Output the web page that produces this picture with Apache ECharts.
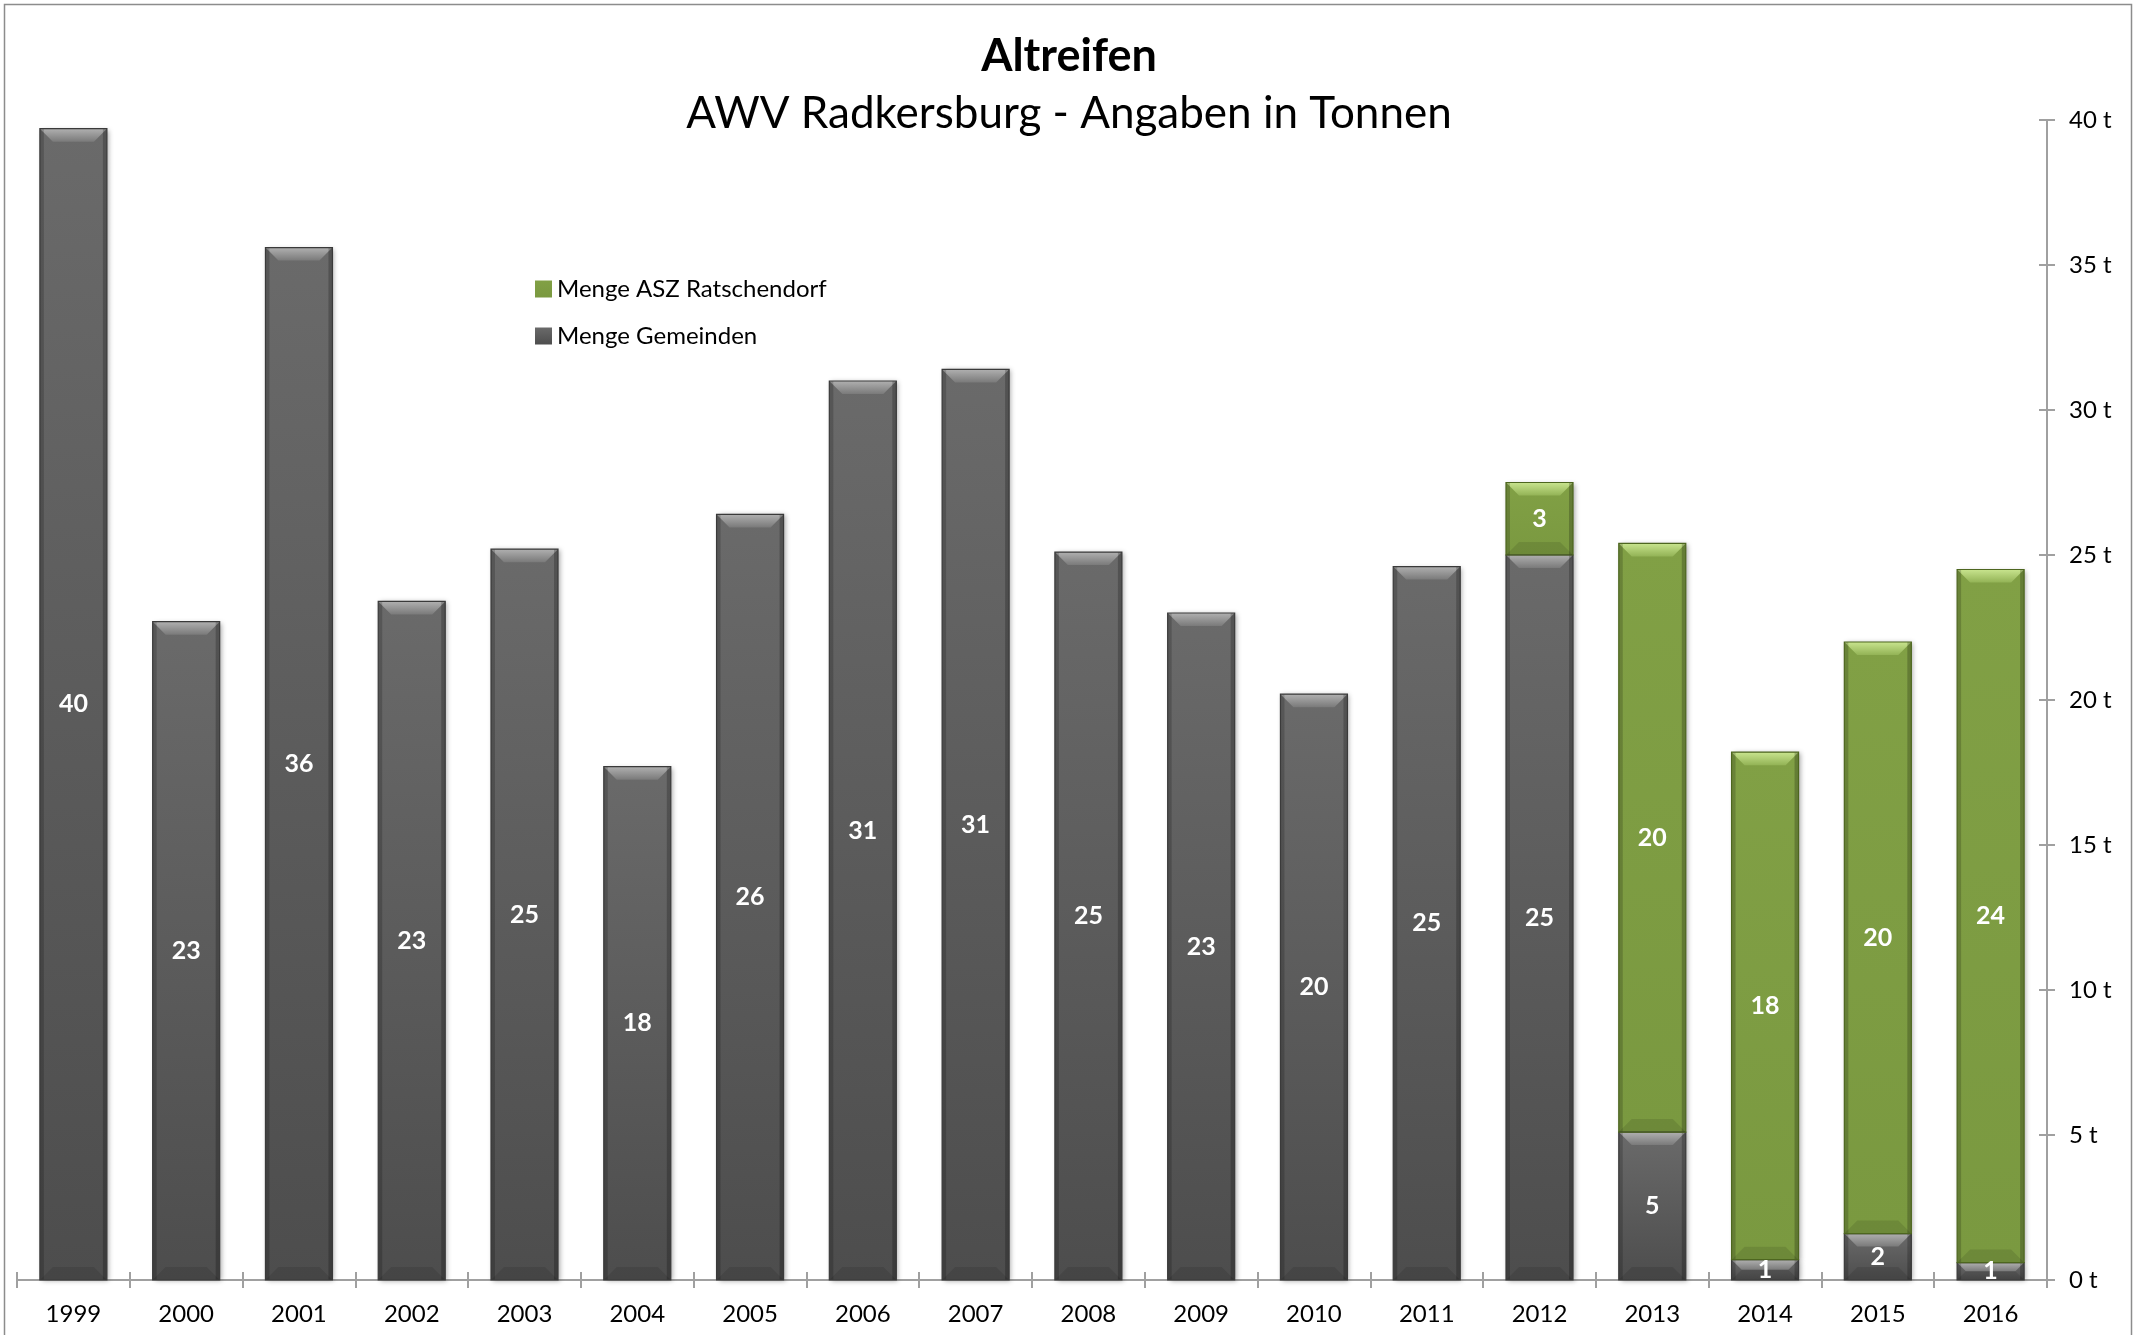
<!DOCTYPE html>
<html>
<head>
<meta charset="utf-8">
<script src="https://cdn.jsdelivr.net/npm/echarts@6/dist/echarts.min.js"></script>
<style>
  html, body { margin: 0; padding: 0; background: #fff; }
  #chart { width: 2139px; height: 1335px; }
</style>
</head>
<body>
<div id="chart"></div>
<script>
const years = ["1999", "2000", "2001", "2002", "2003", "2004", "2005", "2006", "2007",
  "2008", "2009", "2010", "2011", "2012", "2013", "2014", "2015", "2016"];
const gemeinden = [39.7, 22.7, 35.6, 23.4, 25.2, 17.7, 26.4, 31.0, 31.4,
  25.1, 23.0, 20.2, 24.6, 25.0, 5.1, 0.7, 1.6, 0.6];
const asz = [null, null, null, null, null, null, null, null, null,
  null, null, null, null, 2.5, 20.3, 17.5, 20.4, 23.9];
const yTicks = [0, 5, 10, 15, 20, 25, 30, 35, 40];

const FONT = "Lato";
const BAR_W = 67;

const gray = { top: "#6a6a6a", bottom: "#4d4d4d", bevTop: "#b0b0b0", bevBot: "#7a7a7a", edge: "#3a3a3a" };
const green = { top: "#81a045", bottom: "#7a9940", bevTop: "#c8e48e", bevBot: "#93b356", edge: "#4d661f" };

// segments for the bevel / label overlay: [index, base, top, kind]
const segments = [];
years.forEach((y, i) => {
  const g = gemeinden[i] || 0;
  if (g) segments.push([i, 0, g, 0]);
  if (asz[i]) segments.push([i, g, g + asz[i], 1]);
});

const chart = echarts.init(document.getElementById("chart"));

function renderBevel(params, api) {
  const i = api.value(0), lo = api.value(1), hi = api.value(2), kind = api.value(3);
  const pTop = api.coord([i, hi]);
  const pBot = api.coord([i, lo]);
  const x0 = pTop[0] - BAR_W / 2, x1 = pTop[0] + BAR_W / 2;
  const yt = pTop[1], yb = pBot[1];
  const h = yb - yt;
  const b = Math.min(13, h / 2);
  const pal = kind === 0 ? gray : green;
  const val = Math.round(hi - lo);
  return {
    type: "group",
    children: [
      {
        type: "polygon",
        shape: { points: [[x0, yt], [x1, yt], [x1 - b, yt + b], [x0 + b, yt + b]] },
        style: {
          fill: new echarts.graphic.LinearGradient(0, 0, 0, 1, [
            { offset: 0, color: pal.bevTop },
            { offset: 1, color: pal.bevBot }
          ])
        }
      },
      {
        type: "polygon",
        shape: { points: [[x0, yb], [x1, yb], [x1 - b, yb - b], [x0 + b, yb - b]] },
        style: { fill: "rgba(0,0,0,0.10)" }
      },
      {
        type: "rect",
        shape: { x: x0, y: yt, width: 4, height: h },
        style: { fill: "rgba(0,0,0,0.18)" }
      },
      {
        type: "rect",
        shape: { x: x1 - 4, y: yt, width: 4, height: h },
        style: { fill: "rgba(0,0,0,0.22)" }
      },
      {
        type: "rect",
        shape: { x: x0, y: yt, width: BAR_W, height: h },
        style: { fill: "none", stroke: pal.edge, lineWidth: 1.2 }
      },
      {
        type: "text",
        z2: 20,
        style: {
          text: String(val),
          x: pTop[0],
          y: (yt + yb) / 2,
          align: "center",
          verticalAlign: "middle",
          fill: "#ffffff",
          font: "bold 25px " + FONT
        }
      }
    ]
  };
}

const option = {
  animation: false,
  backgroundColor: "#ffffff",
  graphic: [
    {
      type: "rect",
      silent: true,
      shape: { x: 4.5, y: 4.5, width: 2127, height: 1345 },
      style: { fill: "none", stroke: "#8c8c8c", lineWidth: 1.5 }
    }
  ],
  title: [
    {
      text: "Altreifen",
      left: 1064,
      top: 29,
      textAlign: "center",
      textStyle: { fontFamily: FONT, fontWeight: "bold", fontSize: 45, color: "#000" }
    },
    {
      text: "AWV Radkersburg - Angaben in Tonnen",
      left: 1064,
      top: 87,
      textAlign: "center",
      textStyle: { fontFamily: FONT, fontWeight: "normal", fontSize: 44, color: "#000" }
    }
  ],
  legend: {
    orient: "vertical",
    left: 530,
    top: 272,
    itemWidth: 17,
    itemHeight: 17,
    itemGap: 23,
    icon: "rect",
    data: ["Menge ASZ Ratschendorf", "Menge Gemeinden"],
    textStyle: { fontFamily: FONT, fontSize: 24, color: "#000" }
  },
  grid: { left: 17, right: 92, top: 120, bottom: 55, containLabel: false },
  xAxis: [
    {
      type: "category",
      data: years,
      position: "bottom",
      axisLine: { lineStyle: { color: "#a0a0a0", width: 2 } },
      axisTick: { show: true, length: 8, interval: 0, lineStyle: { color: "#a0a0a0", width: 2 } },
      axisLabel: { interval: 0, margin: 22, fontFamily: FONT, fontSize: 24, color: "#000" }
    },
    {
      type: "category",
      data: years,
      position: "bottom",
      offset: 0,
      axisLine: { show: false },
      axisTick: { show: true, inside: true, length: 8, interval: 0, lineStyle: { color: "#a0a0a0", width: 2 } },
      axisLabel: { show: false }
    }
  ],
  yAxis: [
    {
      type: "value",
      position: "right",
      min: yTicks[0],
      max: yTicks[yTicks.length - 1],
      interval: 5,
      splitLine: { show: false },
      axisLine: { show: true, lineStyle: { color: "#a0a0a0", width: 2 } },
      axisTick: { show: true, length: 8, lineStyle: { color: "#a0a0a0", width: 2 } },
      axisLabel: { margin: 22, formatter: "{value} t", fontFamily: FONT, fontSize: 24, color: "#000" }
    },
    {
      type: "value",
      position: "right",
      offset: 0,
      min: yTicks[0],
      max: yTicks[yTicks.length - 1],
      interval: 5,
      splitLine: { show: false },
      axisLine: { show: false },
      axisTick: { show: true, inside: true, length: 8, lineStyle: { color: "#a0a0a0", width: 2 } },
      axisLabel: { show: false }
    }
  ],
  series: [
    {
      name: "Menge Gemeinden",
      type: "bar",
      stack: "total",
      barWidth: BAR_W,
      z: 2,
      data: gemeinden,
      itemStyle: {
        color: new echarts.graphic.LinearGradient(0, 0, 0, 1, [
          { offset: 0, color: gray.top },
          { offset: 1, color: gray.bottom }
        ]),
        shadowColor: "rgba(0,0,0,0.35)",
        shadowBlur: 5,
        shadowOffsetX: 2,
        shadowOffsetY: 1
      }
    },
    {
      name: "Menge ASZ Ratschendorf",
      type: "bar",
      stack: "total",
      barWidth: BAR_W,
      z: 2,
      data: asz,
      itemStyle: {
        color: new echarts.graphic.LinearGradient(0, 0, 0, 1, [
          { offset: 0, color: green.top },
          { offset: 1, color: green.bottom }
        ]),
        shadowColor: "rgba(0,0,0,0.35)",
        shadowBlur: 5,
        shadowOffsetX: 2,
        shadowOffsetY: 1
      }
    },
    {
      name: "bevel",
      type: "custom",
      z: 3,
      silent: true,
      renderItem: renderBevel,
      encode: { x: 0, y: 2 },
      data: segments
    }
  ]
};

chart.setOption(option);
</script>
</body>
</html>
